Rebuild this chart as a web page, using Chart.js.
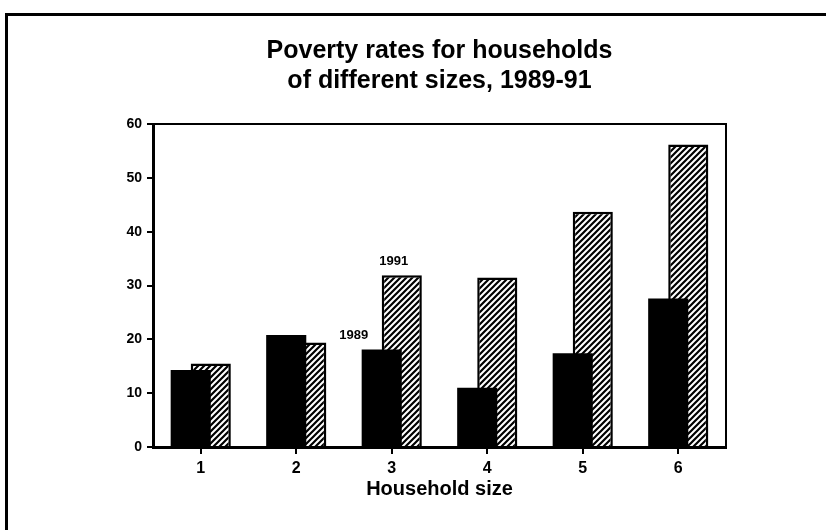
<!DOCTYPE html>
<html lang="en">
<head>
  <meta charset="UTF-8">
  <title>Poverty rates for households of different sizes, 1989-91</title>
  <script src="https://cdn.jsdelivr.net/npm/chart.js"></script>
  <style>
    html, body { margin: 0; padding: 0; background: #fff; overflow: hidden; }
    .frame {
      position: absolute; left: 5px; top: 13px; width: 840px; height: 540px;
      border-left: 3px solid #000; border-top: 3px solid #000;
    }
    .wrap { position: absolute; left: 0; top: 0; width: 826px; height: 530px; }
  </style>
</head>
<body>
<div class="frame"></div>
<div class="wrap"><canvas id="chart" width="826" height="530"></canvas></div>
<script>
// values (percent)
const householdSizes = ['1', '2', '3', '4', '5', '6'];
const rates1989 = [14.3, 20.8, 18.1, 11.0, 17.4, 27.6];
const rates1991 = [15.5, 19.4, 31.9, 31.5, 43.7, 56.2];
const yMin = 0, yMax = 60, yStep = 10;

const FONT = "'Liberation Sans', Arial, sans-serif";

// diagonal hatch for the 1991 bars
function makeHatch() {
  const c = document.createElement('canvas');
  c.width = 6; c.height = 6;
  const g = c.getContext('2d');
  g.fillStyle = '#fff';
  g.fillRect(0, 0, 6, 6);
  g.strokeStyle = '#000';
  g.lineWidth = 2.2;
  g.beginPath();
  g.moveTo(-3, 3); g.lineTo(3, -3);
  g.moveTo(0, 6); g.lineTo(6, 0);
  g.moveTo(3, 9); g.lineTo(9, 3);
  g.stroke();
  return g.createPattern(c, 'repeat');
}

// box on top and right of the plot area + the year notes
const extras = {
  id: 'extras',
  afterDatasetsDraw(chart) {
    const ctx = chart.ctx;
    const a = chart.chartArea;
    ctx.save();
    ctx.strokeStyle = '#000';
    ctx.lineWidth = 2;
    ctx.beginPath();
    ctx.moveTo(a.left, a.top);
    ctx.lineTo(a.right, a.top);
    ctx.lineTo(a.right, a.bottom);
    ctx.stroke();

    ctx.fillStyle = '#000';
    ctx.font = 'bold 13px ' + FONT;
    ctx.textAlign = 'center';
    ctx.textBaseline = 'middle';
    const b91 = chart.getDatasetMeta(1).data[2];
    ctx.fillText('1991', b91.x - 8, b91.y - 14);
    const b89 = chart.getDatasetMeta(0).data[2];
    ctx.fillText('1989', b89.x - 28, b89.y - 14);
    ctx.restore();
  }
};

new Chart(document.getElementById('chart').getContext('2d'), {
  type: 'bar',
  data: {
    labels: householdSizes,
    datasets: [{
      label: '1989',
      data: rates1989,
      backgroundColor: '#000',
      borderWidth: 0
    }, {
      label: '1991',
      data: rates1991,
      backgroundColor: makeHatch(),
      borderColor: '#000',
      borderWidth: 2.5
    }]
  },
  options: {
    responsive: false,
    animation: false,
    datasets: {
      bar: { categoryPercentage: 0.42, barPercentage: 2 }
    },
    layout: { padding: { left: 0, right: 100, top: 0, bottom: 0 } },
    plugins: {
      legend: { display: false },
      tooltip: { enabled: false },
      title: {
        display: true,
        fullSize: false,
        text: ['Poverty rates for households', 'of different sizes, 1989-91'],
        color: '#000',
        font: { family: FONT, size: 25, weight: 'bold', lineHeight: 1.2 },
        padding: { top: 36, bottom: 28 }
      }
    },
    scales: {
      x: {
        grid: { drawOnChartArea: false, offset: false, color: '#000', lineWidth: 2, tickLength: 7 },
        border: { color: '#000', width: 3 },
        ticks: { color: '#000', padding: 5, font: { family: FONT, size: 16, weight: 'bold' } },
        title: {
          display: true,
          text: 'Household size',
          color: '#000',
          font: { family: FONT, size: 20, weight: 'bold', lineHeight: 1.2 },
          padding: { top: 0, bottom: 29 }
        },
        afterFit(scale) { scale.height = 83; }
      },
      y: {
        min: yMin,
        max: yMax,
        grid: { drawOnChartArea: false, color: '#000', lineWidth: 2, tickLength: 6 },
        border: { color: '#000', width: 3 },
        ticks: { stepSize: yStep, color: '#000', padding: 5, font: { family: FONT, size: 14, weight: 'bold' } },
        afterFit(scale) { scale.width = 153; }
      }
    }
  },
  plugins: [extras]
});
</script>
</body>
</html>
